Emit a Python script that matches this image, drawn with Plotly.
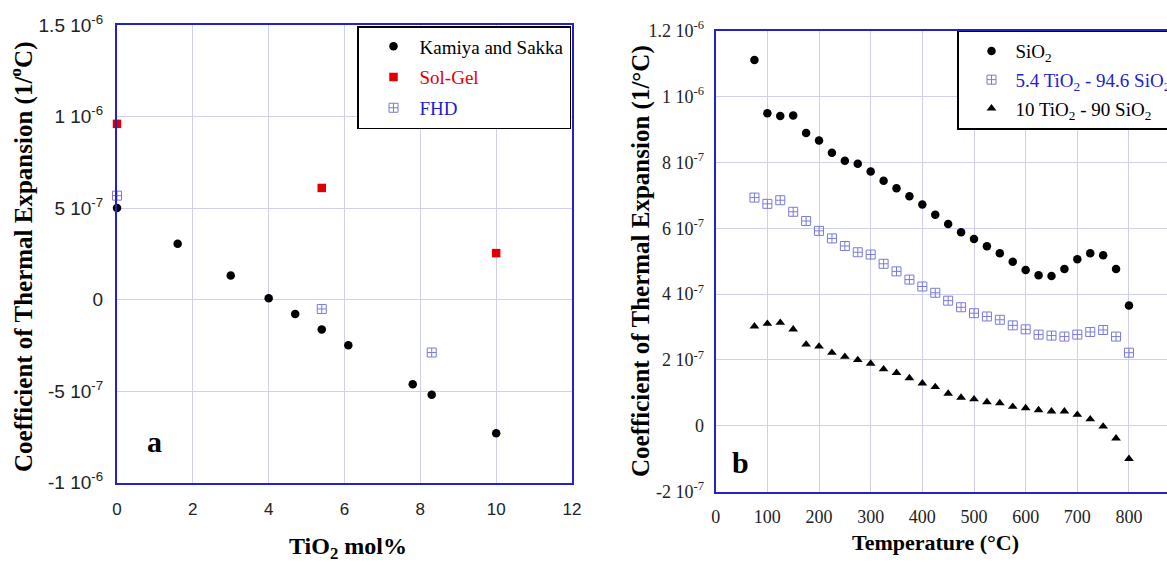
import plotly.graph_objects as go

# ---------------- data: panel a ----------------
ks_x = [0, 1.6, 3.0, 4.0, 4.7, 5.4, 6.1, 7.8, 8.3, 10]
ks_y = [5.0e-7, 3.05e-7, 1.32e-7, 0.08e-7, -0.78e-7, -1.63e-7, -2.49e-7, -4.62e-7, -5.2e-7, -7.3e-7]
sg_x = [0, 5.4, 10]
sg_y = [9.6e-7, 6.1e-7, 2.54e-7]
fhd_x = [0, 5.4, 8.3]
fhd_y = [5.68e-7, -0.51e-7, -2.89e-7]

a_yticks = [-1e-6, -5e-7, 0, 5e-7, 1e-6, 1.5e-6]
a_yticklabels = ["-1 10<sup>-6</sup>", "-5 10<sup>-7</sup>", "0", "5 10<sup>-7</sup>",
                 "1 10<sup>-6</sup>", "1.5 10<sup>-6</sup>"]
a_xticks = [0, 2, 4, 6, 8, 10, 12]

# ---------------- data: panel b ----------------
temp = [75, 100, 125, 150, 175, 200, 225, 250, 275, 300, 325, 350, 375, 400, 425,
        450, 475, 500, 525, 550, 575, 600, 625, 650, 675, 700, 725, 750, 775, 800]
sio2 = [11.11, 9.49, 9.41, 9.42, 8.89, 8.66, 8.29, 8.05, 7.96, 7.72, 7.44, 7.21, 6.97, 6.72, 6.41,
        6.13, 5.88, 5.67, 5.45, 5.24, 4.98, 4.73, 4.57, 4.55, 4.76, 5.06, 5.24, 5.18, 4.76, 3.65]
ti54 = [6.93, 6.74, 6.85, 6.50, 6.22, 5.92, 5.69, 5.46, 5.27, 5.20, 4.92, 4.69, 4.44, 4.23, 4.04,
        3.80, 3.60, 3.42, 3.32, 3.22, 3.05, 2.93, 2.77, 2.74, 2.71, 2.77, 2.85, 2.91, 2.71, 2.22]
ti10 = [3.02, 3.10, 3.13, 2.93, 2.47, 2.41, 2.22, 2.10, 2.00, 1.89, 1.72, 1.61, 1.45, 1.29, 1.18,
        0.98, 0.86, 0.81, 0.72, 0.69, 0.58, 0.54, 0.48, 0.44, 0.44, 0.34, 0.20, -0.02, -0.38, -1.0]
scale_b = 1e-7

b_yticks = [-2e-7, 0, 2e-7, 4e-7, 6e-7, 8e-7, 1e-6, 1.2e-6]
b_yticklabels = ["-2 10<sup>-7</sup>", "0", "2 10<sup>-7</sup>", "4 10<sup>-7</sup>",
                 "6 10<sup>-7</sup>", "8 10<sup>-7</sup>", "1 10<sup>-6</sup>", "1.2 10<sup>-6</sup>"]
b_xticks = [0, 100, 200, 300, 400, 500, 600, 700, 800]

W, H = 1167, 565
AXIS_BLUE = "#2323c4"
GRID = "#cfcff2"
FHD_COL = "#7a7ad8"
SERIF = "Liberation Serif, Times New Roman, serif"
SANS = "Liberation Sans, Arial, sans-serif"

fig = go.Figure()

# panel a traces
fig.add_trace(go.Scatter(x=ks_x, y=ks_y, mode="markers", name="Kamiya and Sakka",
                         marker=dict(symbol="circle", size=8.5, color="black"),
                         cliponaxis=False,
                         xaxis="x", yaxis="y", legend="legend", legendgroup="a1"))
fig.add_trace(go.Scatter(x=sg_x, y=sg_y, mode="markers",
                         name="<span style='color:#e00000'>Sol-Gel</span>",
                         marker=dict(symbol="square", size=8.5, color="#e00000"),
                         cliponaxis=False,
                         xaxis="x", yaxis="y", legend="legend", legendgroup="a2"))
fig.add_trace(go.Scatter(x=fhd_x, y=fhd_y, mode="markers",
                         name="<span style='color:#2020d0'>FHD</span>",
                         marker=dict(symbol="square-cross-open", size=9, color=FHD_COL,
                                     line=dict(width=1)),
                         cliponaxis=False,
                         xaxis="x", yaxis="y", legend="legend", legendgroup="a3"))

# panel b traces
fig.add_trace(go.Scatter(x=temp, y=[v * scale_b for v in sio2], mode="markers",
                         name="SiO<sub>2</sub>",
                         marker=dict(symbol="circle", size=8.5, color="black"),
                         cliponaxis=False,
                         xaxis="x2", yaxis="y2", legend="legend2", legendgroup="b1"))
fig.add_trace(go.Scatter(x=temp, y=[v * scale_b for v in ti54], mode="markers",
                         name="<span style='color:#2020d0'>5.4 TiO<sub>2</sub> - 94.6 SiO<sub>2</sub></span>",
                         marker=dict(symbol="square-cross-open", size=9, color=FHD_COL,
                                     line=dict(width=1)),
                         cliponaxis=False,
                         xaxis="x2", yaxis="y2", legend="legend2", legendgroup="b2"))
fig.add_trace(go.Scatter(x=temp, y=[v * scale_b for v in ti10], mode="markers",
                         name="10 TiO<sub>2</sub> - 90 SiO<sub>2</sub>",
                         marker=dict(symbol="triangle-up", size=8.5, color="black"),
                         cliponaxis=False,
                         xaxis="x2", yaxis="y2", legend="legend2", legendgroup="b3"))

def px_x(p):
    return p / W

def px_y(p):
    return 1 - p / H

common_axis = dict(showgrid=True, gridcolor=GRID, gridwidth=1, zeroline=False,
                   showline=True, linecolor=AXIS_BLUE, linewidth=2, ticks="")

fig.update_layout(
    width=W, height=H,
    margin=dict(l=0, r=0, t=0, b=0, autoexpand=False),
    paper_bgcolor="white", plot_bgcolor="white",
    showlegend=True,
    xaxis=dict(common_axis, domain=[px_x(117), px_x(572)], range=[0, 12],
               tickvals=a_xticks, mirror=True, anchor="y",
               tickfont=dict(family=SANS, size=17, color="#222"), ticklabelstandoff=10),
    yaxis=dict(common_axis, domain=[px_y(482.7), px_y(25)], range=[-1e-6, 1.5e-6],
               tickvals=a_yticks, ticktext=a_yticklabels, mirror=True, anchor="x",
               tickfont=dict(family=SANS, size=19, color="#222"), ticklabelstandoff=8),
    xaxis2=dict(common_axis, domain=[px_x(715.7), 1.0], range=[0, (W - 715.7) / 0.5166],
                tickvals=b_xticks, mirror=True, anchor="y2",
                tickfont=dict(family=SERIF, size=18, color="#222"), ticklabelstandoff=8),
    yaxis2=dict(common_axis, domain=[px_y(491.7), px_y(30.6)], range=[-2e-7, 1.2e-6],
                tickvals=b_yticks, ticktext=b_yticklabels, mirror=False, anchor="x2",
                tickfont=dict(family=SERIF, size=18, color="#222"), ticklabelstandoff=6),
    legend=dict(x=px_x(357), y=px_y(26), xanchor="left", yanchor="top",
                bgcolor="white", bordercolor="black", borderwidth=1.5,
                font=dict(family=SERIF, size=19, color="black"),
                tracegroupgap=3, itemwidth=42, indentation=9),
    legend2=dict(x=px_x(957), y=px_y(30.6), xanchor="left", yanchor="top",
                 bgcolor="white", bordercolor="black", borderwidth=1.5,
                 font=dict(family=SERIF, size=19, color="black"),
                 tracegroupgap=1, itemwidth=38, indentation=9),
)

# axis titles and panel labels
fig.add_annotation(text="<b>Coefficient of Thermal Expansion (1/<sup>o</sup>C)</b>",
                   xref="paper", yref="paper", x=px_x(21), y=px_y(257), textangle=-90,
                   xanchor="center", yanchor="middle",
                   showarrow=False, font=dict(family=SERIF, size=25, color="black"))
fig.add_annotation(text="<b>TiO<sub>2</sub> mol%</b>",
                   xref="paper", yref="paper", x=px_x(348), y=px_y(548),
                   xanchor="center", yanchor="middle",
                   showarrow=False, font=dict(family=SERIF, size=24, color="black"))
fig.add_annotation(text="<b>Coefficient of Thermal Expansion (1/°C)</b>",
                   xref="paper", yref="paper", x=px_x(641), y=px_y(261), textangle=-90,
                   xanchor="center", yanchor="middle",
                   showarrow=False, font=dict(family=SERIF, size=25, color="black"))
fig.add_annotation(text="<b>Temperature (°C)</b>",
                   xref="paper", yref="paper", x=px_x(935), y=px_y(542),
                   xanchor="center", yanchor="middle",
                   showarrow=False, font=dict(family=SERIF, size=22, color="black"))
fig.add_annotation(text="<b>a</b>", xref="x", yref="y", x=0.98, y=-7.75e-7,
                   xanchor="center", yanchor="middle",
                   showarrow=False, font=dict(family=SERIF, size=30, color="black"))
fig.add_annotation(text="<b>b</b>", xref="x2", yref="y2", x=48, y=-1.1e-7,
                   xanchor="center", yanchor="middle",
                   showarrow=False, font=dict(family=SERIF, size=30, color="black"))

fig.write_html(
    "out.html",
    config={"displayModeBar": False},
    post_script="document.body.style.margin='0';document.body.style.overflow='hidden';",
)
